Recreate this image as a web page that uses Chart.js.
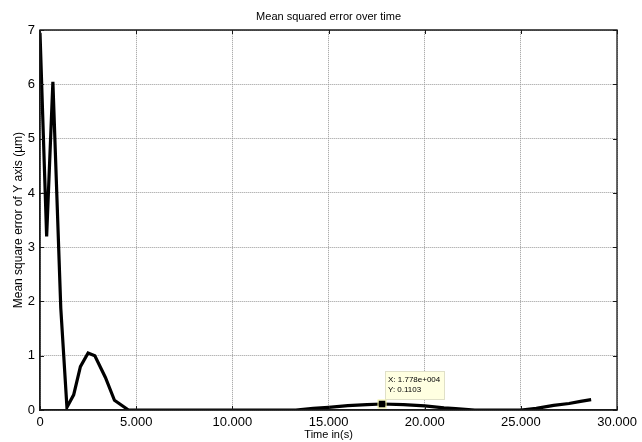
<!DOCTYPE html>
<html>
<head>
<meta charset="utf-8">
<script src="https://cdn.jsdelivr.net/npm/chart.js@4/dist/chart.umd.min.js"></script>
<style>
html,body{margin:0;padding:0;background:#fff;}
#wrap{width:642px;height:442px;position:relative;}
</style>
</head>
<body>
<div id="wrap"><canvas id="c" width="642" height="442"></canvas></div>
<script>
// Data
const timeValues = [0, 345, 670, 1080, 1400, 1750, 2100, 2500, 2850, 3400, 3870, 4600, 6000, 8000, 10000, 12000, 13300, 14200, 15000, 16000, 17000, 17780, 18900, 20000, 21000, 21600, 22600, 24000, 25000, 25800, 26700, 27500, 28100, 28650];
const mseValues  = [6.95, 3.2, 6.05, 1.88, 0.05, 0.28, 0.8, 1.05, 1.0, 0.6, 0.18, 0.0, 0.0, 0.0, 0.0, 0.0, 0.0, 0.03, 0.05, 0.08, 0.1, 0.1103, 0.1, 0.075, 0.04, 0.025, 0.0, 0.0, 0.0, 0.03, 0.085, 0.12, 0.16, 0.19];
const xTicks = [0, 5000, 10000, 15000, 20000, 25000, 30000];
const xTickLabels = ['0', '5.000', '10.000', '15.000', '20.000', '25.000', '30.000'];
const yTicks = [0, 1, 2, 3, 4, 5, 6, 7];
const dataTip = {x: 17780, y: 0.1103, xLabel: 'X: 1.778e+004', yLabel: 'Y: 0.1103'};

const FONT = '"Liberation Sans", Arial, sans-serif';

const framePlugin = {
  id: 'frame',
  afterDraw(chart) {
    const {ctx, chartArea: a, scales} = chart;
    const xs = scales.x, ys = scales.y;
    ctx.save();
    ctx.setLineDash([]);
    ctx.globalAlpha = 1;
    ctx.strokeStyle = '#1a1a1a';
    ctx.lineWidth = 1.3;
    const L = Math.round(a.left), T = Math.round(a.top);
    const R = Math.round(a.right), B = Math.round(a.bottom);
    ctx.beginPath();
    ctx.moveTo(L, T); ctx.lineTo(R, T); ctx.lineTo(R, B); ctx.lineTo(L, B); ctx.closePath();
    ctx.stroke();
    // inward ticks
    ctx.beginPath();
    xTicks.forEach(v => {
      const px = Math.round(xs.getPixelForValue(v)) + 0.5;
      ctx.moveTo(px, B); ctx.lineTo(px, B - 4);
      ctx.moveTo(px, T); ctx.lineTo(px, T + 4);
    });
    yTicks.forEach(v => {
      const py = Math.round(ys.getPixelForValue(v)) + 0.5;
      ctx.moveTo(L, py); ctx.lineTo(L + 4, py);
      ctx.moveTo(R, py); ctx.lineTo(R - 4, py);
    });
    ctx.lineWidth = 1;
    ctx.stroke();
    // data tip
    const mx = xs.getPixelForValue(dataTip.x), my = ys.getPixelForValue(dataTip.y);
    const bx = Math.round(mx) + 3, by = Math.round(my) - 33, bw = 59, bh = 28;
    ctx.fillStyle = '#ffffe1';
    ctx.fillRect(bx, by, bw, bh);
    ctx.strokeStyle = '#e0e0c8';
    ctx.strokeRect(bx + 0.5, by + 0.5, bw, bh);
    ctx.fillStyle = '#000';
    ctx.fillRect(mx - 3.5, my - 3.5, 7, 7);
    ctx.strokeStyle = '#f0f0a0';
    ctx.strokeRect(mx - 4, my - 4, 8, 8);
    ctx.fillStyle = '#000';
    ctx.font = '8px ' + FONT;
    ctx.textBaseline = 'middle';
    ctx.textAlign = 'left';
    ctx.fillText(dataTip.xLabel, bx + 3, by + 9);
    ctx.fillText(dataTip.yLabel, bx + 3, by + 19);
    ctx.restore();
  }
};

new Chart(document.getElementById('c'), {
  type: 'line',
  data: {
    datasets: [{
      data: timeValues.map((t, i) => ({x: t, y: mseValues[i]})),
      borderColor: '#000',
      borderWidth: 3.2,
      pointRadius: 0,
      tension: 0,
      fill: false
    }]
  },
  options: {
    responsive: false,
    animation: false,
    layout: {padding: {left: 0, right: 20, top: 0, bottom: 0}},
    plugins: {
      legend: {display: false},
      tooltip: {enabled: false},
      title: {
        display: true,
        text: 'Mean squared error over time',
        fullSize: false,
        color: '#000',
        font: {family: FONT, size: 11, weight: 'normal'},
        padding: {top: 10, bottom: 7}
      }
    },
    scales: {
      x: {
        type: 'linear',
        min: 0, max: 30000,
        afterBuildTicks(s) { s.ticks = xTicks.map(v => ({value: v})); },
        afterFit(s) { s.height = 32; },
        grid: {color: '#999', drawTicks: false, lineWidth: 1},
        border: {display: true, color: '#1a1a1a', width: 1.3, dash: [1, 1]},
        ticks: {
          color: '#000', padding: 5, maxRotation: 0, autoSkip: false,
          font: {family: FONT, size: 13},
          callback: (v) => xTickLabels[xTicks.indexOf(v)]
        },
        title: {display: true, text: 'Time in(s)', color: '#000', font: {family: FONT, size: 11}, padding: {top: 0, bottom: 0}}
      },
      y: {
        type: 'linear',
        min: 0, max: 7,
        afterBuildTicks(s) { s.ticks = yTicks.map(v => ({value: v})); },
        afterFit(s) { s.width = 40; },
        grid: {color: '#999', drawTicks: false, lineWidth: 1},
        border: {display: true, color: '#1a1a1a', width: 1.3, dash: [1, 1]},
        ticks: {color: '#000', padding: 5, autoSkip: false, font: {family: FONT, size: 13}},
        title: {display: true, text: 'Mean square error of Y axis (µm)', color: '#000', font: {family: FONT, size: 12}, padding: {top: 11, bottom: 2}}
      }
    }
  },
  plugins: [framePlugin]
});
</script>
</body>
</html>
